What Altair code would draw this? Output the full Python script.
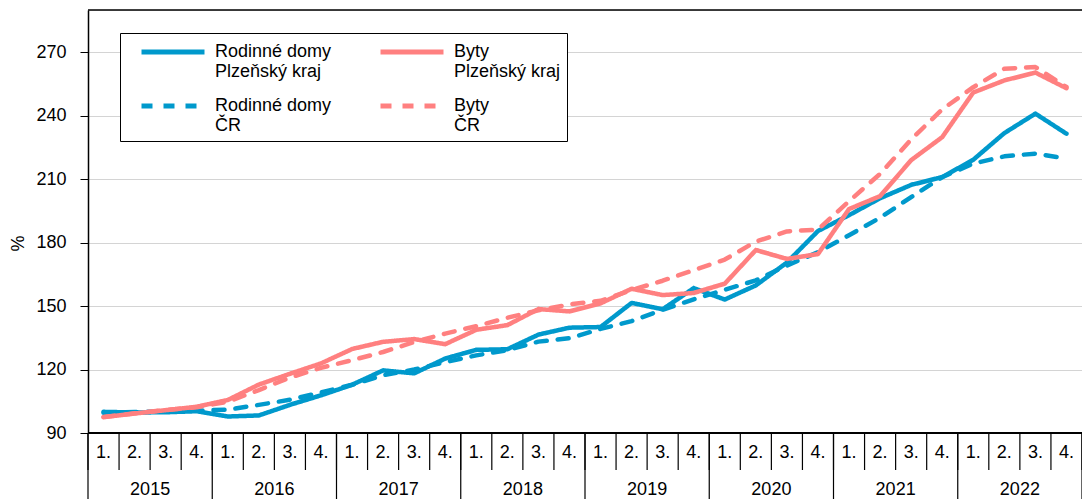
import altair as alt
import pandas as pd

FONT = "Liberation Sans"
BLUE = "#0099CC"
PINK = "#FF8080"
FS = 18

years = ["2015", "2016", "2017", "2018", "2019", "2020", "2021", "2022"]
quarter_labels = ["1.", "2.", "3.", "4."]
series_names = ["Rodinné domy|Plzeňský kraj", "Rodinné domy|ČR",
                "Byty|Plzeňský kraj", "Byty|ČR"]
y_ticks = [90, 120, 150, 180, 210, 240, 270]

rd_plzen = [100.0, 99.7, 99.8, 100.3, 97.8, 98.3, 103.3, 107.8,
            112.8, 119.6, 118.2, 125.2, 129.3, 129.6, 136.5, 139.8,
            140.1, 151.5, 148.5, 158.5, 153.1, 159.8, 170.6, 185.5,
            193.0, 201.0, 207.3, 211.0, 219.2, 231.8, 241.0, 231.5]
rd_cr = [99.6, 99.9, 100.3, 100.6, 101.0, 103.3, 105.7, 109.2,
         112.8, 117.3, 120.0, 123.5, 126.7, 129.2, 133.2, 134.8,
         139.2, 142.9, 148.3, 153.2, 157.7, 162.2, 169.2, 175.5,
         183.5, 191.8, 201.5, 211.0, 217.4, 220.8, 222.1, 219.8]
byty_plzen = [97.5, 99.2, 100.8, 102.4, 105.6, 112.9, 118.0, 122.9,
              129.7, 133.1, 134.4, 132.0, 138.8, 141.0, 148.6, 147.5,
              151.3, 158.2, 155.2, 156.2, 160.6, 176.5, 172.3, 174.6,
              195.9, 202.0, 219.0, 229.9, 251.0, 256.7, 260.4, 253.0]
byty_cr = [97.6, 99.3, 100.9, 102.2, 104.8, 110.3, 116.2, 120.8,
           124.4, 128.3, 133.0, 137.0, 140.5, 144.5, 148.0, 150.8,
           152.5, 157.6, 162.0, 167.0, 172.0, 180.5, 185.3, 186.2,
           199.6, 212.5, 228.8, 243.0, 253.5, 262.2, 263.0, 253.6]

n = len(years) * len(quarter_labels)
rows = []
for name, vals in zip(series_names, [rd_plzen, rd_cr, byty_plzen, byty_cr]):
    for i, v in enumerate(vals):
        rows.append({"pos": i + 0.5, "value": v, "series": name})
df = pd.DataFrame(rows)

qdf = pd.DataFrame({"pos": [i + 0.5 for i in range(n)],
                    "label": [quarter_labels[i % 4] for i in range(n)]})
ydf = pd.DataFrame({"pos": [4 * k + 2 for k in range(len(years))], "label": years})
qb = pd.DataFrame({"b": list(range(n + 1))})
yb = pd.DataFrame({"b": list(range(0, n + 1, 4))})

W = 994
H = 423
x_scale = alt.Scale(domain=[0, n], nice=False, zero=False)
y_scale = alt.Scale(domain=[90, 290], nice=False, zero=False)

legend = alt.Legend(
    title=None, orient="none", legendX=32, legendY=23, columns=2,
    symbolType="M-3,0H3", symbolSize=441, symbolStrokeWidth=5,
    labelFontSize=FS, labelFont=FONT, labelColor="black",
    labelExpr="split(datum.label, '|')", labelOffset=29, symbolOffset=34,
    padding=6, strokeColor="black", fillColor="white",
    columnPadding=33, rowPadding=12, labelLimit=300,
)

lines = alt.Chart(df).mark_line(strokeWidth=4.5, strokeCap="round", strokeJoin="round").encode(
    x=alt.X("pos:Q", scale=x_scale, axis=None),
    y=alt.Y("value:Q", scale=y_scale,
            axis=alt.Axis(values=y_ticks, title="%", grid=True, gridColor="#d4d4d4",
                          domainColor="black", domainWidth=1.5, tickColor="black",
                          tickSize=8, labelFontSize=FS, labelColor="black", labelPadding=14,
                          titleFontSize=FS, titleFontWeight="normal", titleColor="black",
                          titleX=-70, titleY=233, titleAlign="center", titleBaseline="middle")),
    color=alt.Color("series:N", scale=alt.Scale(domain=series_names,
                                                range=[BLUE, BLUE, PINK, PINK]), legend=legend),
    strokeDash=alt.StrokeDash("series:N", scale=alt.Scale(domain=series_names,
                                                          range=[[1, 0], [11, 11], [1, 0], [11, 11]]),
                              legend=legend),
)

top_rule = alt.Chart(pd.DataFrame({"v": [290]})).mark_rule(color="black", strokeWidth=1.5).encode(
    y=alt.Y("v:Q", scale=y_scale))
bottom_rule = alt.Chart(pd.DataFrame({"v": [90]})).mark_rule(color="black", strokeWidth=2).encode(
    y=alt.Y("v:Q", scale=y_scale))

q_div = alt.Chart(qb).mark_rule(color="black", strokeWidth=1.2).encode(
    x=alt.X("b:Q", scale=x_scale), y=alt.value(H), y2=alt.value(H + 37))
y_div = alt.Chart(yb).mark_rule(color="black", strokeWidth=1.2).encode(
    x=alt.X("b:Q", scale=x_scale), y=alt.value(H), y2=alt.value(H + 80))

q_text = alt.Chart(qdf).mark_text(fontSize=FS, font=FONT, color="black", baseline="middle").encode(
    x=alt.X("pos:Q", scale=x_scale), y=alt.value(H + 20), text="label:N")
y_text = alt.Chart(ydf).mark_text(fontSize=FS, font=FONT, color="black", baseline="middle").encode(
    x=alt.X("pos:Q", scale=x_scale), y=alt.value(H + 57), text="label:N")

chart = alt.layer(lines, top_rule, bottom_rule, q_div, y_div, q_text, y_text).properties(
    width=W, height=H,
    padding={"left": 80, "top": 2, "right": 0, "bottom": 74},
    autosize=alt.AutoSizeParams(type="none"),
    background="white",
).configure_view(stroke=None).configure(font=FONT)

chart.save("out.html", embed_options={"renderer": "svg", "actions": False})
